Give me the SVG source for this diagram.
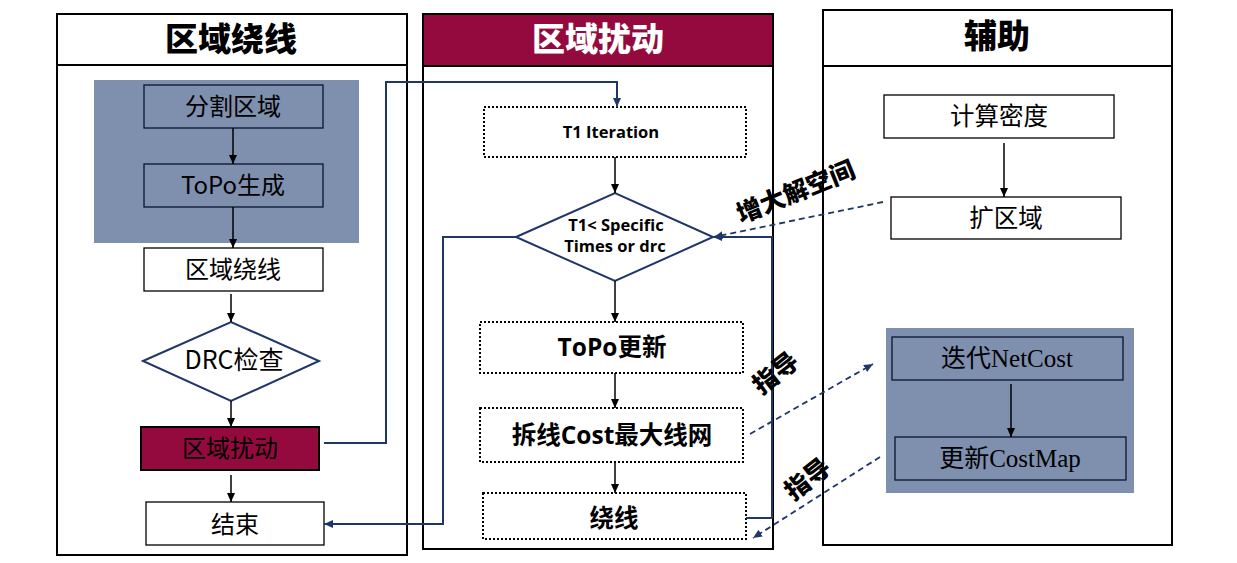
<svg xmlns="http://www.w3.org/2000/svg" width="1237" height="563" viewBox="0 0 1237 563">
<defs>
<marker id="ab" markerWidth="10" markerHeight="10" refX="9" refY="5" orient="auto" markerUnits="userSpaceOnUse"><path d="M0,1 L9,5 L0,9 Z" fill="#000"/></marker>
<marker id="an" markerWidth="10" markerHeight="10" refX="9" refY="5" orient="auto" markerUnits="userSpaceOnUse"><path d="M0,1 L9,5 L0,9 Z" fill="#1f3668"/></marker>
<style>
.panel{fill:none;stroke:#000;stroke-width:2}
.box{fill:#fff;stroke:#000;stroke-width:1.3}
.gbox{fill:none;stroke:#0a1530;stroke-width:1.3}
.dot{fill:#fff;stroke:#000;stroke-width:2;stroke-dasharray:2 2}
.gray{fill:#7f8fae}
.dia{fill:#fff;stroke:#1f3668;stroke-width:2}
.t{font-family:"Noto Sans CJK SC","Microsoft YaHei",sans-serif;text-anchor:middle;fill:#000}
.tb{font-family:"Open Sans","Noto Sans CJK SC",sans-serif;font-weight:bold;text-anchor:middle;fill:#000}
.ts{font-family:"Liberation Serif","Noto Sans CJK SC",serif;text-anchor:middle;fill:#000}
.title{font-family:"Noto Sans CJK SC",sans-serif;font-weight:900;font-size:33px;text-anchor:middle}
.arr{stroke:#000;stroke-width:1.5;fill:none;marker-end:url(#ab)}
.blue{stroke:#1f3668;stroke-width:2;fill:none}
.dash{stroke:#1f3668;stroke-width:1.8;fill:none;stroke-dasharray:6 4;marker-end:url(#an)}
</style>
</defs>

<g id="panel-left">
<rect class="panel" x="57" y="14" width="350" height="541"/>
<line x1="57" y1="65" x2="407" y2="65" stroke="#000" stroke-width="2"/>
<text class="title" x="231" y="51" fill="#000">区域绕线</text>
<rect class="gray" x="94" y="80" width="265" height="163"/>
</g>
<g id="panel-mid">
<rect x="423" y="14" width="350" height="52" fill="#940a3e"/>
<rect class="panel" x="423" y="14" width="350" height="535"/>
<line x1="423" y1="66" x2="773" y2="66" stroke="#000" stroke-width="2"/>
<text class="title" x="598" y="51" fill="#fff">区域扰动</text>
</g>
<g id="panel-right">
<rect class="panel" x="823" y="10" width="349" height="535"/>
<line x1="823" y1="66" x2="1172" y2="66" stroke="#000" stroke-width="2"/>
<text class="title" x="997" y="48" fill="#000">辅助</text>
<rect class="gray" x="886" y="328" width="248" height="165"/>
</g>

<g id="n-split"><rect class="gbox" x="144" y="85" width="179" height="43"/><text class="t" x="233" y="115" font-size="24">分割区域</text></g>
<g id="n-topo-gen"><rect class="gbox" x="144" y="164" width="179" height="43"/><text class="t" x="233" y="194" font-size="24">ToPo生成</text></g>
<g id="n-route"><rect class="box" x="144" y="248" width="179" height="43"/><text class="t" x="233" y="278" font-size="24">区域绕线</text></g>
<g id="n-drc"><polygon class="dia" points="143,361 231,322 319,361 231,401"/><text class="t" x="234" y="369" font-size="25">DRC检查</text></g>
<g id="n-perturb"><rect x="141" y="427" width="178" height="43" fill="#940a3e" stroke="#000" stroke-width="2"/><text class="t" x="230" y="457" font-size="24">区域扰动</text></g>
<g id="n-end"><rect class="box" x="146" y="502" width="178" height="43"/><text class="t" x="235" y="533" font-size="24">结束</text></g>

<g id="n-t1"><rect class="dot" x="484" y="107" width="262" height="50"/><text class="tb" x="611" y="138" font-size="16.5">T1 Iteration</text></g>
<g id="n-cond"><polygon class="dia" points="516,237 615,193 713,237 615,281"/><text class="tb" x="616" y="231" font-size="16.5">T1&lt; Specific</text><text class="tb" x="615" y="252" font-size="16.5">Times or drc</text></g>
<g id="n-topo-upd"><rect class="dot" x="480" y="322" width="263" height="51"/><text class="tb" x="612" y="356" font-size="24.5">ToPo更新</text></g>
<g id="n-ripup"><rect class="dot" x="480" y="408" width="263" height="54"/><text class="tb" x="612" y="444" font-size="24.5">拆线Cost最大线网</text></g>
<g id="n-reroute"><rect class="dot" x="483" y="493" width="263" height="46"/><text class="tb" x="614" y="527" font-size="24.5">绕线</text></g>

<g id="n-density"><rect class="box" x="884" y="95" width="230" height="43"/><text class="t" x="999" y="125" font-size="24.5">计算密度</text></g>
<g id="n-expand"><rect class="box" x="891" y="197" width="230" height="42"/><text class="t" x="1006" y="227" font-size="24.5">扩区域</text></g>
<g id="n-netcost"><rect class="gbox" x="892" y="337" width="231" height="43"/><text class="ts" x="1007" y="367" font-size="25">迭代NetCost</text></g>
<g id="n-costmap"><rect class="gbox" x="895" y="437" width="231" height="43"/><text class="ts" x="1010" y="467" font-size="25">更新CostMap</text></g>

<g id="connectors">
<line class="arr" x1="233" y1="128" x2="233" y2="164"/>
<line class="arr" x1="233" y1="207" x2="233" y2="248"/>
<line class="arr" x1="231" y1="294" x2="231" y2="322"/>
<line class="arr" x1="231" y1="401" x2="231" y2="427"/>
<line class="arr" x1="231" y1="475" x2="231" y2="502"/>
<line class="arr" x1="615" y1="157" x2="615" y2="193"/>
<line class="arr" x1="615" y1="281" x2="615" y2="322"/>
<line class="arr" x1="615" y1="373" x2="615" y2="408"/>
<line class="arr" x1="615" y1="462" x2="615" y2="493"/>
<line class="arr" x1="1004" y1="143" x2="1004" y2="197"/>
<line class="arr" x1="1011" y1="384" x2="1011" y2="437"/>
<polyline class="blue" points="324,443 386,443 386,82 617,82 617,107" marker-end="url(#an)"/>
<polyline class="blue" points="516,237 443,237 443,524 324,524" marker-end="url(#an)"/>
<polyline class="blue" points="746,518 772,518 772,237 713,237" marker-end="url(#an)"/>
<line class="dash" x1="883" y1="202" x2="714" y2="237"/>
<line class="dash" x1="750" y1="434" x2="873" y2="364"/>
<line class="dash" x1="880" y1="457" x2="753" y2="538"/>
<text class="t" font-weight="900" font-size="25" transform="translate(799,200) rotate(-22)">增大解空间</text>
<text class="t" font-weight="900" font-size="25" transform="translate(781,380) rotate(-38)">指导</text>
<text class="t" font-weight="900" font-size="25" transform="translate(813,486) rotate(-38)">指导</text>
</g>
</svg>
